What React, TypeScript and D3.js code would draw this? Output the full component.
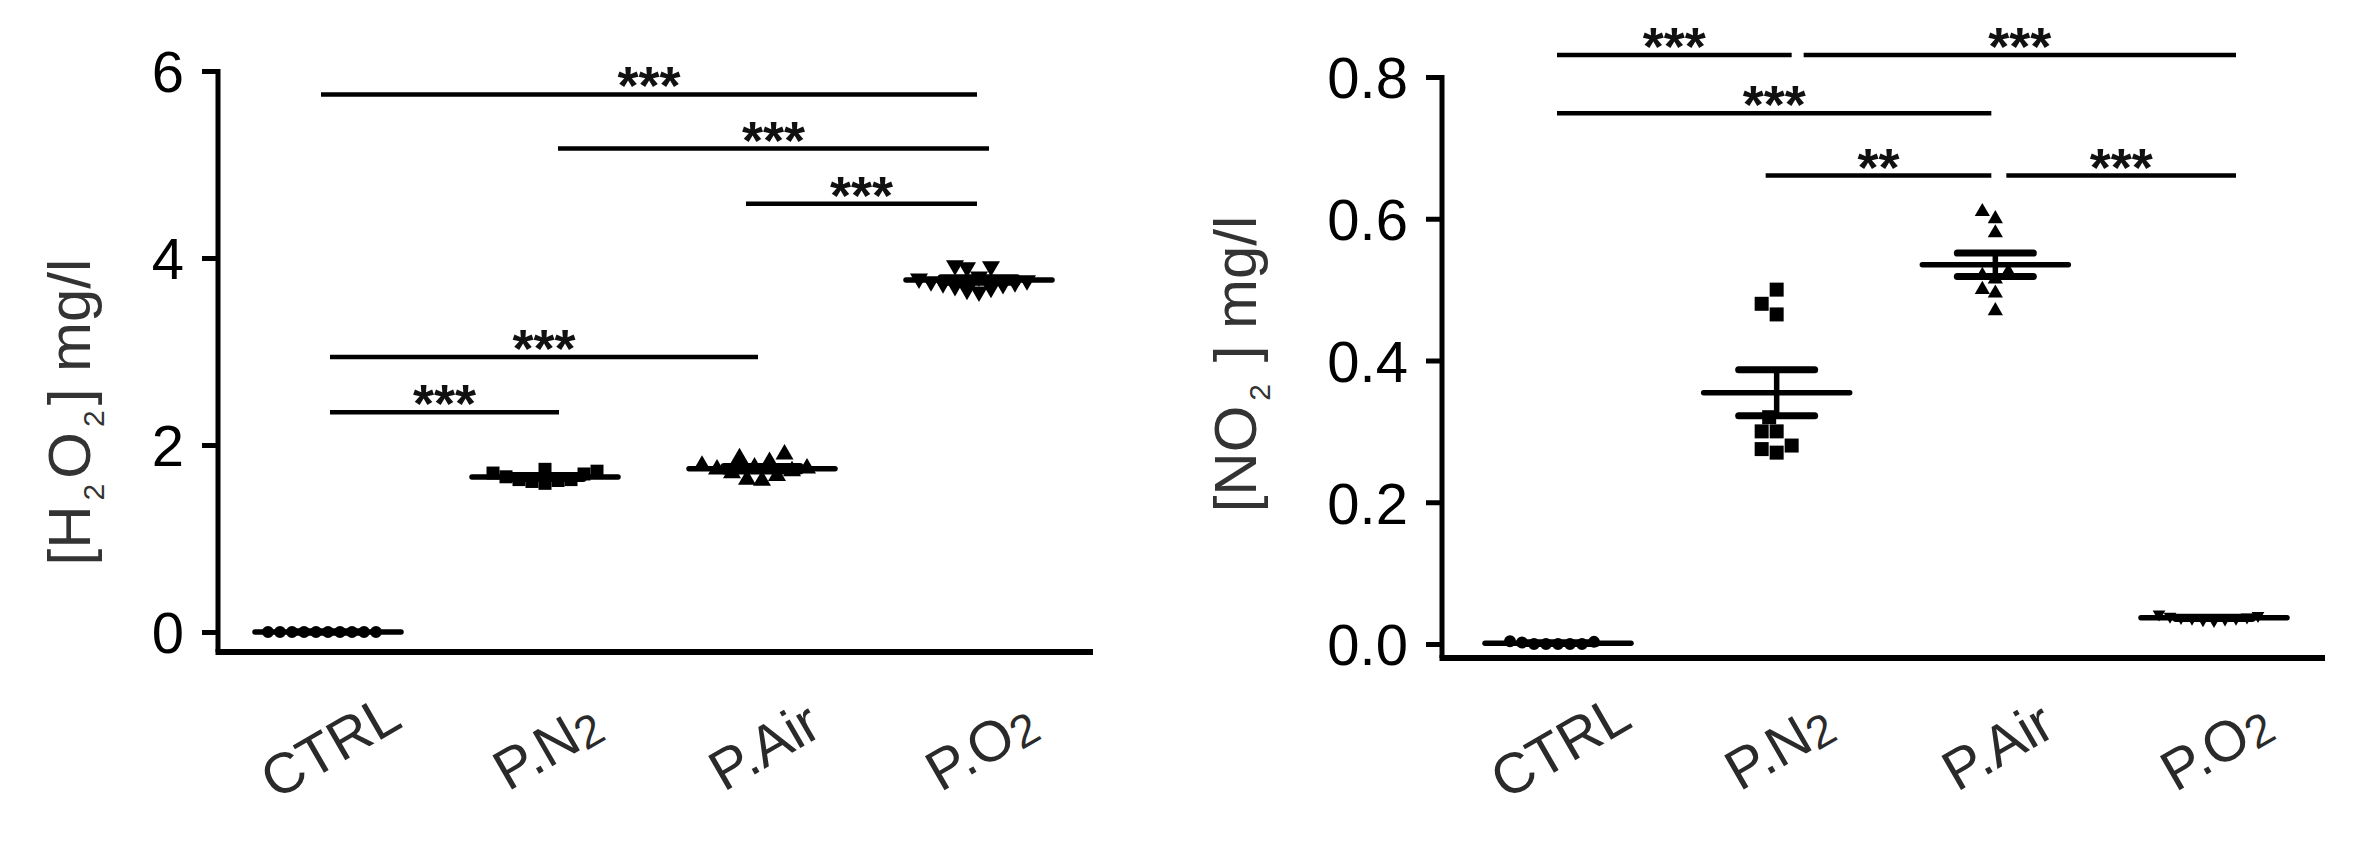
import React, { useEffect, useRef } from "react";
import * as d3 from "d3";

const FONT = '"Liberation Sans", Arial, sans-serif';

// categories
const groups = ["CTRL", "P.N2", "P.Air", "P.O2"];

// H2O2 (mg/l) per group
const h2o2Ctrl = [0, 0, 0, 0, 0, 0, 0, 0, 0, 0];
const h2o2PN2 = [1.7, 1.63, 1.61, 1.69, 1.74, 1.59, 1.63, 1.62, 1.66, 1.72];
const h2o2PAir = [1.9, 1.86, 1.82, 1.78, 1.76, 1.74, 1.72, 1.7, 1.67, 1.63, 1.62, 1.75];
const h2o2PO2 = [3.92, 3.91, 3.9, 3.8, 3.76, 3.75, 3.74, 3.72, 3.7, 3.68, 3.66, 3.64, 3.78, 3.73];

// NO2 (mg/l) per group
const no2Ctrl = [0, 0, 0.002, 0.004, 0.003, 0, 0, 0];
const no2PN2 = [0.5, 0.48, 0.465, 0.32, 0.3, 0.3, 0.28, 0.27, 0.275];
const no2PAir = [0.61, 0.6, 0.58, 0.525, 0.52, 0.515, 0.5, 0.495, 0.47];
const no2PO2 = [0.034, 0.036, 0.038, 0.04, 0.042, 0.035, 0.033, 0.037, 0.039, 0.036];

const h2o2Ticks = [0, 2, 4, 6];
const no2Ticks = [0, 0.2, 0.4, 0.6, 0.8];

// comparisons: [from, to, bracket height, label]
const h2o2Sig = [
  [0, 3, 5.75, "***"],
  [1, 3, 5.17, "***"],
  [2, 3, 4.58, "***"],
  [0, 2, 2.94, "***"],
  [0, 1, 2.35, "***"],
];
const no2Sig = [
  [0, 1, 0.831, "***"],
  [1, 3, 0.831, "***"],
  [0, 2, 0.749, "***"],
  [1, 2, 0.661, "**"],
  [2, 3, 0.661, "***"],
];

// little pixel nudges of the bracket ends, as drawn in the original
const h2o2Nudge = [[-7, -2], [13, 10], [-16, -2], [2, -4], [2, 14]];
const no2Nudge = [[-1, 15], [27, 22], [-1, -4], [-11, -4], [11, 22]];

function swarm(values, y, dia, maxHalf) {
  const order = values.map((v, i) => i).sort((a, b) => values[a] - values[b]);
  const placed = [];
  const out = new Array(values.length);
  const step = dia * 0.5;
  for (const i of order) {
    const py = y(values[i]);
    let dx = 0;
    for (let t = 0; t < 400; t++) {
      const off = (t % 2 === 0 ? 1 : -1) * Math.ceil(t / 2) * step;
      if (placed.every((p) => Math.hypot(p.x - off, p.y - py) >= dia * 0.95)) {
        dx = off;
        break;
      }
    }
    placed.push({ x: dx, y: py });
    out[i] = { x: dx, y: py };
  }
  const m = d3.max(out, (d) => Math.abs(d.x)) || 0;
  const k = m > maxHalf ? maxHalf / m : 1;
  return out.map((d) => ({ x: d.x * k, y: d.y }));
}

const Chart = ({ series, shapes, ticks, fmt, sig, nudge, label, lay }) => {
  const axisRef = useRef();

  const x = d3.scalePoint().domain(groups).range(lay.cats);
  const y = d3.scaleLinear().domain([0, d3.max(ticks)]).range([lay.zero, lay.top]);

  useEffect(() => {
    const g = d3.select(axisRef.current);
    g.call(d3.axisLeft(y).tickValues(ticks).tickFormat(d3.format(fmt)).tickSize(16).tickPadding(18).tickSizeOuter(0));
    g.select(".domain").remove();
    g.selectAll(".tick line").attr("stroke", "#000").attr("stroke-width", 5);
    g.selectAll(".tick text")
      .attr("fill", "#000")
      .style("font-family", FONT)
      .style("font-size", "58px")
      .attr("dy", "0.36em");
  }, []);

  return (
    <g>
      {/* axes */}
      <line x1={lay.axisX} x2={lay.axisX} y1={lay.top - 2} y2={lay.axisY} stroke="#000" strokeWidth={5} />
      <line x1={lay.axisX - 2.5} x2={lay.xEnd} y1={lay.axisY} y2={lay.axisY} stroke="#000" strokeWidth={6} />
      <g ref={axisRef} transform={`translate(${lay.axisX},0)`} />

      {/* y label */}
      <text
        transform={`translate(${lay.labelX},${lay.labelY}) rotate(-90)`}
        textAnchor="middle"
        fill="#333"
        style={{ fontFamily: FONT, fontSize: 60 }}
      >
        {label.map((p, i) =>
          p.sub ? (
            <tspan key={i} dy={14} fontSize={30} dx={5}>{p.t}</tspan>
          ) : (
            <tspan key={i} dy={i > 0 && label[i - 1].sub ? -14 : 0} dx={i > 0 && label[i - 1].sub ? 5 : 0}>{p.t}</tspan>
          )
        )}
      </text>

      {/* category labels */}
      {groups.map((c) => {
        const m = c.match(/^(.*?)(\d)$/);
        return (
          <text
            key={c}
            transform={`translate(${x(c) + 2},${lay.catY}) rotate(-30)`}
            textAnchor="middle"
            dominantBaseline="central"
            fill="#2a2a2a"
            style={{ fontFamily: FONT, fontSize: 57 }}
          >
            {m ? (
              <>
                {m[1]}
                <tspan fontSize={46} dy={8}>{m[2]}</tspan>
              </>
            ) : (
              c
            )}
          </text>
        );
      })}

      {/* points, mean and SEM */}
      {series.map((vals, gi) => {
        const cx = x(groups[gi]);
        const sh = shapes[gi];
        const pts = swarm(vals, y, sh.dia, 60);
        const mean = d3.mean(vals);
        const sem = d3.deviation(vals) / Math.sqrt(vals.length);
        const path = d3.symbol(sh.type, sh.area)();
        return (
          <g key={gi}>
            {pts.map((p, i) => (
              <path
                key={i}
                d={path}
                fill="#000"
                transform={`translate(${cx + p.x},${p.y}) rotate(${sh.flip ? 180 : 0})`}
              />
            ))}
            <line x1={cx - 73} x2={cx + 73} y1={y(mean)} y2={y(mean)} stroke="#000" strokeWidth={5.5} strokeLinecap="round" />
            <line x1={cx} x2={cx} y1={y(mean + sem)} y2={y(mean - sem)} stroke="#000" strokeWidth={5.5} />
            <line x1={cx - 38} x2={cx + 38} y1={y(mean + sem)} y2={y(mean + sem)} stroke="#000" strokeWidth={7} strokeLinecap="round" />
            <line x1={cx - 38} x2={cx + 38} y1={y(mean - sem)} y2={y(mean - sem)} stroke="#000" strokeWidth={7} strokeLinecap="round" />
          </g>
        );
      })}

      {/* significance brackets */}
      {sig.map(([a, b, h, t], i) => {
        const x1 = x(groups[a]) + nudge[i][0];
        const x2 = x(groups[b]) + nudge[i][1];
        return (
          <g key={i}>
            <line x1={x1} x2={x2} y1={y(h)} y2={y(h)} stroke="#000" strokeWidth={4.5} />
            <text
              x={(x1 + x2) / 2}
              y={y(h) + 10}
              textAnchor="middle"
              fill="#111"
              fontWeight="bold"
              style={{ fontFamily: FONT, fontSize: 54 }}
            >
              {t}
            </text>
          </g>
        );
      })}
    </g>
  );
};

const App = () => {
  const leftShapes = [
    { type: d3.symbolCircle, area: 113, dia: 12 },
    { type: d3.symbolSquare, area: 169, dia: 13 },
    { type: d3.symbolTriangle, area: 140, dia: 15 },
    { type: d3.symbolTriangle, area: 140, dia: 15, flip: true },
  ];
  const rightShapes = [
    { type: d3.symbolCircle, area: 113, dia: 12 },
    { type: d3.symbolSquare, area: 196, dia: 15 },
    { type: d3.symbolTriangle, area: 100, dia: 13 },
    { type: d3.symbolTriangle, area: 70, dia: 11, flip: true },
  ];
  return (
    <svg
      width={2380}
      height={844}
      style={{ position: "absolute", left: 0, top: 0, background: "#fff" }}
    >
      <rect width={2380} height={844} fill="#fff" />
      <Chart
        series={[h2o2Ctrl, h2o2PN2, h2o2PAir, h2o2PO2]}
        shapes={leftShapes}
        ticks={h2o2Ticks}
        fmt="d"
        sig={h2o2Sig}
        nudge={h2o2Nudge}
        label={[{ t: "[H" }, { t: "2", sub: true }, { t: "O" }, { t: "2", sub: true }, { t: "] mg/l" }]}
        lay={{ axisX: 218, top: 71, zero: 632, axisY: 652, xEnd: 1093, cats: [328, 979], labelX: 90, labelY: 412, catY: 746 }}
      />
      <Chart
        series={[no2Ctrl, no2PN2, no2PAir, no2PO2]}
        shapes={rightShapes}
        ticks={no2Ticks}
        fmt=".1f"
        sig={no2Sig}
        nudge={no2Nudge}
        label={[{ t: "[NO" }, { t: "2", sub: true }, { t: " ] mg/l" }]}
        lay={{ axisX: 1442, top: 77, zero: 644, axisY: 658, xEnd: 2325, cats: [1558, 2214], labelX: 1256, labelY: 364, catY: 746 }}
      />
    </svg>
  );
};

export default App;
